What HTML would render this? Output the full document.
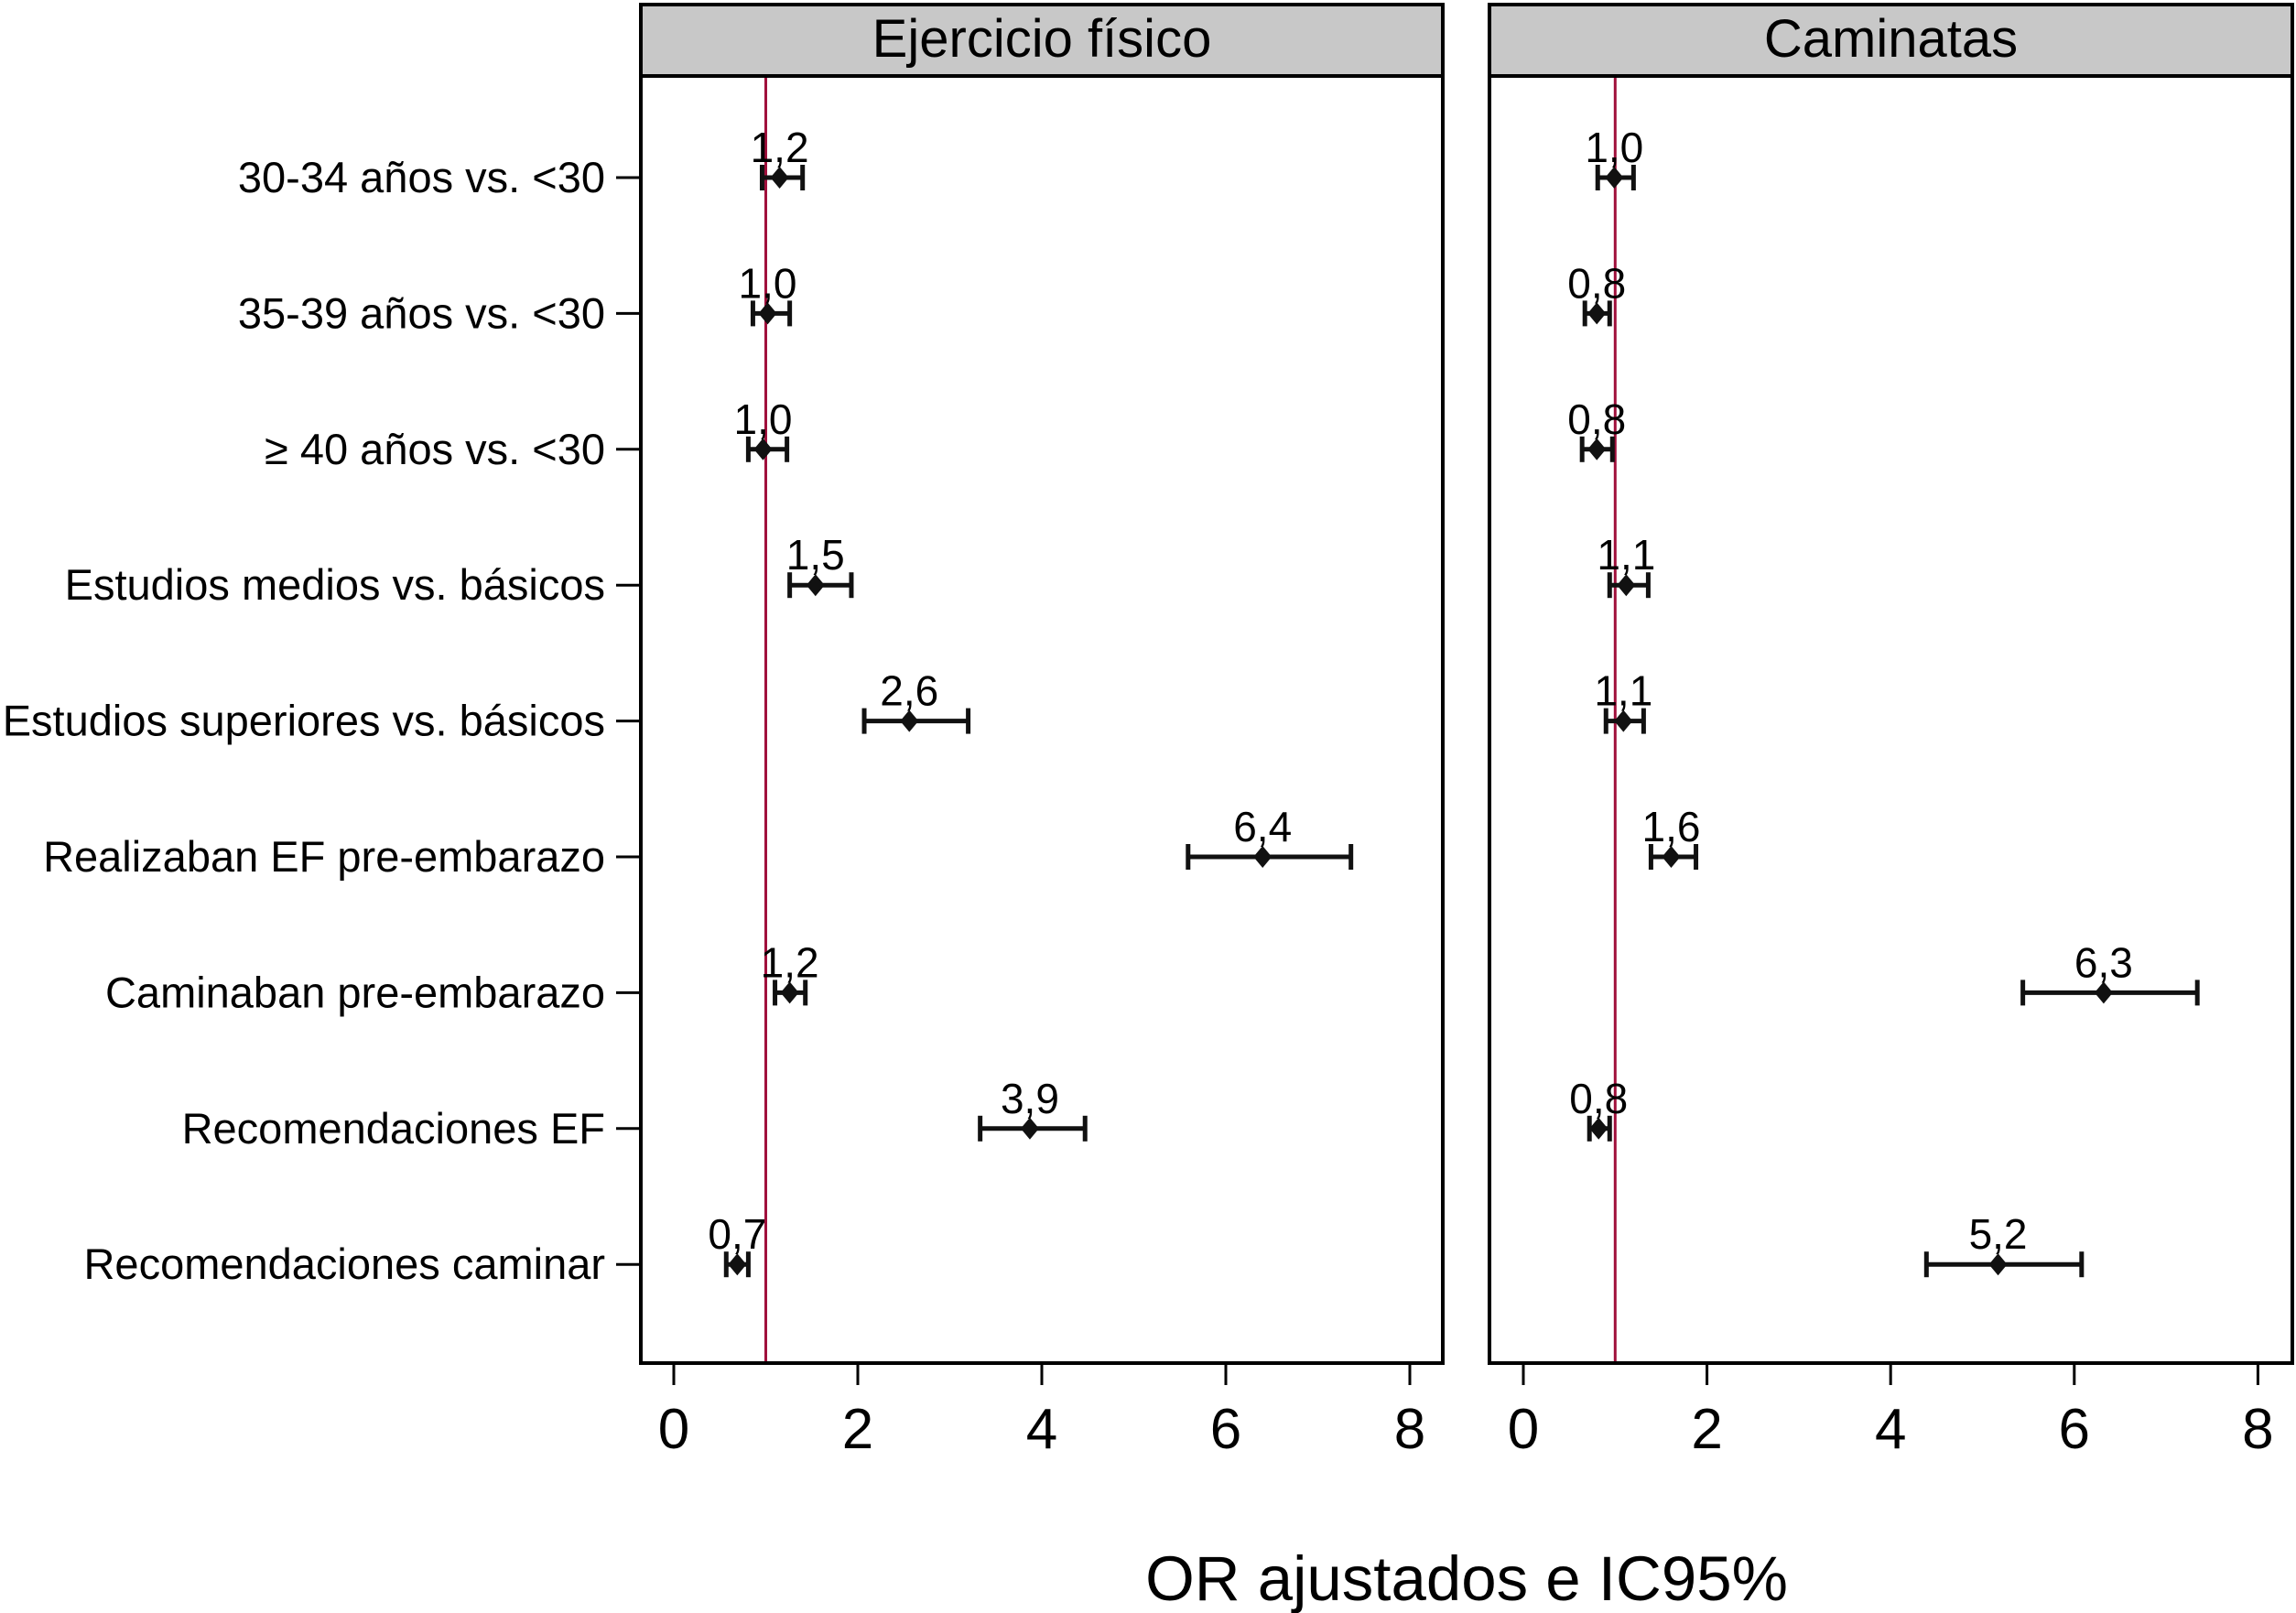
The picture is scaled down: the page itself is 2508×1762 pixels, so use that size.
<!DOCTYPE html>
<html><head><meta charset="utf-8"><style>
html,body{margin:0;padding:0;background:#fff;}
svg{display:block;font-family:"Liberation Sans",Arial,sans-serif;}
</style></head><body>
<svg id="chart" width="2508" height="1762" viewBox="0 0 2508 1762" xmlns="http://www.w3.org/2000/svg"></svg>
<script>
const categories = ["30-34 años vs. <30","35-39 años vs. <30","≥ 40 años vs. <30","Estudios medios vs. básicos","Estudios superiores vs. básicos","Realizaban EF pre-embarazo","Caminaban pre-embarazo","Recomendaciones EF","Recomendaciones caminar"];
const panelTitles = ["Ejercicio físico","Caminatas"];
const efPoint = [1.15,1.02,0.97,1.54,2.56,6.40,1.26,3.87,0.69];
const efLow   = [0.96,0.86,0.81,1.26,2.07,5.59,1.10,3.33,0.57];
const efHigh  = [1.40,1.26,1.23,1.93,3.20,7.36,1.43,4.47,0.81];
const efLabels = ["1,2","1,0","1,0","1,5","2,6","6,4","1,2","3,9","0,7"];
const camPoint = [0.99,0.80,0.80,1.12,1.09,1.61,6.32,0.82,5.17];
const camLow   = [0.81,0.67,0.64,0.94,0.90,1.39,5.44,0.72,4.39];
const camHigh  = [1.20,0.94,0.97,1.36,1.31,1.88,7.34,0.94,6.08];
const camLabels = ["1,0","0,8","0,8","1,1","1,1","1,6","6,3","0,8","5,2"];
const xTicks = [0,2,4,6,8];
const refValue = 1;

const NS="http://www.w3.org/2000/svg";
const svg=document.getElementById('chart');
function mk(tag,attrs,parent){const e=document.createElementNS(NS,tag);for(const k in attrs)e.setAttribute(k,attrs[k]);(parent||svg).appendChild(e);return e;}
const plotTop=83, plotBottom=1489;
function yPos(i){return 194+i*148.4;}
const panels=[
 {left:700,right:1576,x0:736,unit:100.5,pt:efPoint,lo:efLow,hi:efHigh,lab:efLabels},
 {left:1627,right:2504,x0:1664,unit:100.3,pt:camPoint,lo:camLow,hi:camHigh,lab:camLabels}
];
panels.forEach((p,pi)=>{
  const xs=v=>p.x0+v*p.unit;
  const g=mk('g',{});
  
  
  const hdr=mk('rect',{x:p.left,y:5,width:p.right-p.left,height:plotTop-5,fill:'#c8c8c8',stroke:'#000','stroke-width':4},g);
  
  
  const ht=mk('text',{x:(p.left+p.right)/2,y:62,'text-anchor':'middle','font-size':58,fill:'#000'},g);
  ht.textContent=panelTitles[pi];
  
  
  const fr=mk('rect',{x:p.left,y:plotTop,width:p.right-p.left,height:plotBottom-plotTop,fill:'#fff',stroke:'#000','stroke-width':4},g);
  
  
  const rl=mk('line',{x1:xs(refValue),x2:xs(refValue),y1:plotTop+2,y2:plotBottom-2,stroke:'#a0103c','stroke-width':3},g);
  
  
  xTicks.forEach(t=>{
    const tl=mk('line',{x1:xs(t),x2:xs(t),y1:plotBottom,y2:1513,stroke:'#000','stroke-width':3},g);
    
    
    const tt=mk('text',{x:xs(t),y:1582,'text-anchor':'middle','font-size':62,fill:'#000'},g);
    tt.textContent=t;
    
    
  });
  categories.forEach((c,i)=>{
    const y=yPos(i);
    const eb=mk('g',{},g);
    
    
    mk('line',{x1:xs(p.lo[i]),x2:xs(p.hi[i]),y1:y,y2:y,stroke:'#111','stroke-width':5},eb);
    mk('line',{x1:xs(p.lo[i]),x2:xs(p.lo[i]),y1:y-14,y2:y+14,stroke:'#111','stroke-width':5},eb);
    mk('line',{x1:xs(p.hi[i]),x2:xs(p.hi[i]),y1:y-14,y2:y+14,stroke:'#111','stroke-width':5},eb);
    const cx=xs(p.pt[i]);
    const d=mk('polygon',{points:`${cx},${y-12} ${cx+10},${y} ${cx},${y+12} ${cx-10},${y}`,fill:'#111'},g);
    
    
    const vl=mk('text',{x:cx,y:y-17,'text-anchor':'middle','font-size':46,fill:'#000'},g);
    vl.textContent=p.lab[i];
    
    
  });
});
categories.forEach((c,i)=>{
  const y=yPos(i);
  const tl=mk('line',{x1:673,x2:700,y1:y,y2:y,stroke:'#000','stroke-width':3});
  
  
  const t=mk('text',{x:661,y:y+16,'text-anchor':'end','font-size':47,fill:'#000'});
  t.textContent=c;
  
  
});
const at=mk('text',{x:1602,y:1748,'text-anchor':'middle','font-size':69,fill:'#000'});
at.textContent="OR ajustados e IC95%";


</script>
</body></html>
